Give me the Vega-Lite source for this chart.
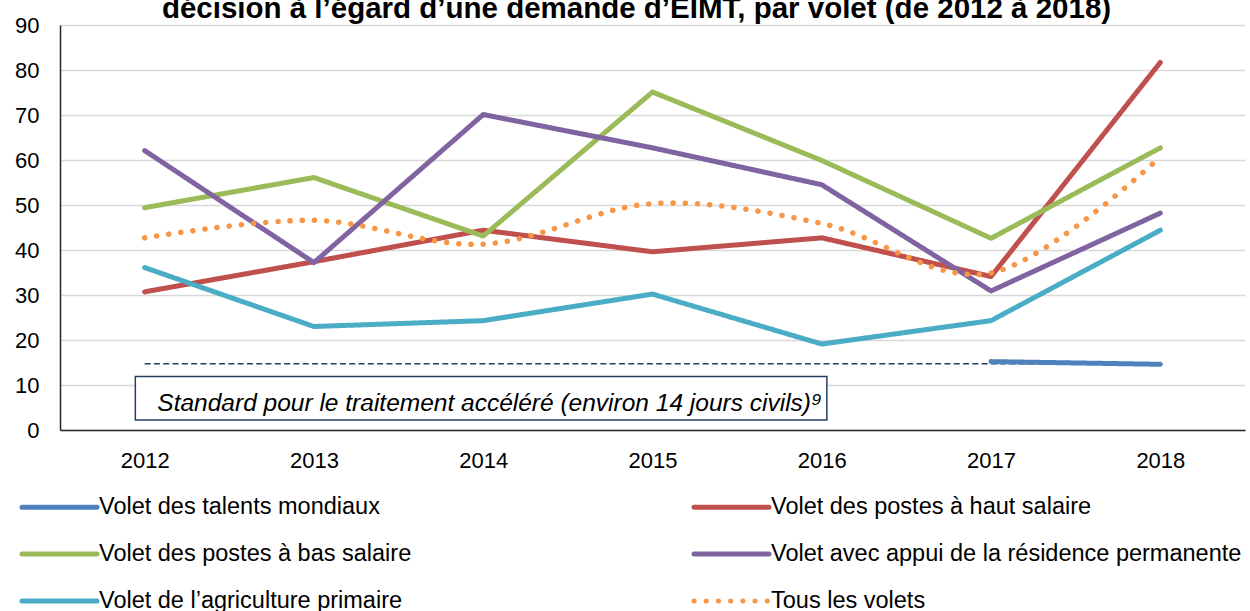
{
  "$schema": "https://vega.github.io/schema/vega-lite/v6.json",
  "width": 1185,
  "height": 405,
  "autosize": {"type": "none"},
  "padding": {"left": 60, "top": 25, "right": 5, "bottom": 181},
  "background": "white",
  "config": {
    "font": "Liberation Sans",
    "view": {"stroke": null},
    "axis": {"labelColor": "black", "labelFont": "Liberation Sans"}
  },
  "title": {
    "text": "décision à l’égard d’une demande d’EIMT, par volet (de 2012 à 2018)",
    "font": "Liberation Sans",
    "fontSize": 29.5,
    "fontWeight": "bold",
    "color": "black",
    "anchor": "middle",
    "frame": "group",
    "baseline": "alphabetic",
    "offset": 6,
    "dx": -16,
    "dy": 39
  },
  "datasets": {
    "series": [
      {"year": 2017, "series": "Volet des talents mondiaux", "value": 15.2},
      {"year": 2018, "series": "Volet des talents mondiaux", "value": 14.6},
      {"year": 2012, "series": "Volet des postes à haut salaire", "value": 30.7},
      {"year": 2013, "series": "Volet des postes à haut salaire", "value": 37.4},
      {"year": 2014, "series": "Volet des postes à haut salaire", "value": 44.4},
      {"year": 2015, "series": "Volet des postes à haut salaire", "value": 39.6},
      {"year": 2016, "series": "Volet des postes à haut salaire", "value": 42.7},
      {"year": 2017, "series": "Volet des postes à haut salaire", "value": 34.1},
      {"year": 2018, "series": "Volet des postes à haut salaire", "value": 81.7},
      {"year": 2012, "series": "Volet des postes à bas salaire", "value": 49.4},
      {"year": 2013, "series": "Volet des postes à bas salaire", "value": 56.1},
      {"year": 2014, "series": "Volet des postes à bas salaire", "value": 43.1},
      {"year": 2015, "series": "Volet des postes à bas salaire", "value": 75.1},
      {"year": 2016, "series": "Volet des postes à bas salaire", "value": 59.9},
      {"year": 2017, "series": "Volet des postes à bas salaire", "value": 42.6},
      {"year": 2018, "series": "Volet des postes à bas salaire", "value": 62.7},
      {"year": 2012, "series": "Volet avec appui de la résidence permanente", "value": 62.1},
      {"year": 2013, "series": "Volet avec appui de la résidence permanente", "value": 37.2},
      {"year": 2014, "series": "Volet avec appui de la résidence permanente", "value": 70.1},
      {"year": 2015, "series": "Volet avec appui de la résidence permanente", "value": 62.7},
      {"year": 2016, "series": "Volet avec appui de la résidence permanente", "value": 54.5},
      {"year": 2017, "series": "Volet avec appui de la résidence permanente", "value": 30.9},
      {"year": 2018, "series": "Volet avec appui de la résidence permanente", "value": 48.2},
      {"year": 2012, "series": "Volet de l’agriculture primaire", "value": 36.1},
      {"year": 2013, "series": "Volet de l’agriculture primaire", "value": 23.0},
      {"year": 2014, "series": "Volet de l’agriculture primaire", "value": 24.3},
      {"year": 2015, "series": "Volet de l’agriculture primaire", "value": 30.2},
      {"year": 2016, "series": "Volet de l’agriculture primaire", "value": 19.1},
      {"year": 2017, "series": "Volet de l’agriculture primaire", "value": 24.3},
      {"year": 2018, "series": "Volet de l’agriculture primaire", "value": 44.4},
      {"year": 2012, "series": "Tous les volets", "value": 42.7},
      {"year": 2013, "series": "Tous les volets", "value": 46.6},
      {"year": 2014, "series": "Tous les volets", "value": 41.3},
      {"year": 2015, "series": "Tous les volets", "value": 50.3},
      {"year": 2016, "series": "Tous les volets", "value": 45.9},
      {"year": 2017, "series": "Tous les volets", "value": 34.9},
      {"year": 2018, "series": "Tous les volets", "value": 60.7}
    ]
  },
  "encoding": {
    "x": {
      "field": "year",
      "type": "quantitative",
      "scale": {"domain": [2011.5, 2018.5], "nice": false, "zero": false},
      "axis": {
        "title": null,
        "values": [2012, 2013, 2014, 2015, 2016, 2017, 2018],
        "format": "d",
        "grid": false,
        "ticks": false,
        "tickSize": 0,
        "labelFontSize": 22,
        "labelPadding": 20,
        "labelFlush": false,
        "domainColor": "#262626",
        "domainWidth": 1.5
      }
    },
    "y": {
      "field": "value",
      "type": "quantitative",
      "scale": {"domain": [0, 90], "nice": false},
      "axis": {
        "title": null,
        "values": [0, 10, 20, 30, 40, 50, 60, 70, 80, 90],
        "grid": true,
        "gridColor": "#D9D9D9",
        "gridWidth": 1.5,
        "ticks": false,
        "tickSize": 0,
        "labelFontSize": 22,
        "labelPadding": 21,
        "domainColor": "#262626",
        "domainWidth": 1.5
      }
    }
  },
  "layer": [
    {
      "data": {"values": [{"year": 2012, "value": 14.7}, {"year": 2018, "value": 14.7}]},
      "mark": {"type": "line", "stroke": "#243F60", "strokeWidth": 1.5, "strokeDash": [6, 3.3]}
    },
    {
      "data": {"values": [{"year": 2011.945, "year_end": 2016.03, "value": 2.2, "value_end": 11.9}]},
      "mark": {"type": "rect", "fill": "white", "stroke": "#243F60", "strokeWidth": 1.5},
      "encoding": {
        "x2": {"field": "year_end"},
        "y2": {"field": "value_end"}
      }
    },
    {
      "data": {"values": [{"year": 2012.075, "value": 4.3, "label": "Standard pour le traitement accéléré (environ 14 jours civils)⁹"}]},
      "mark": {"type": "text", "align": "left", "baseline": "alphabetic", "fontSize": 24.5, "fontStyle": "italic", "font": "Liberation Sans", "color": "black"},
      "encoding": {"text": {"field": "label"}}
    },
    {
      "data": {"name": "series"},
      "transform": [{"filter": "datum.series !== 'Tous les volets'"}],
      "mark": {"type": "line", "strokeWidth": 5, "strokeCap": "round", "strokeJoin": "round"},
      "encoding": {
        "detail": {"field": "series"},
        "color": {
          "field": "series",
          "type": "nominal",
          "scale": {
            "domain": ["Volet des talents mondiaux", "Volet des postes à haut salaire", "Volet des postes à bas salaire", "Volet avec appui de la résidence permanente", "Volet de l’agriculture primaire", "Tous les volets"],
            "range": ["#4F81BD", "#C0504D", "#9BBB59", "#8064A2", "#4BACC6", "#F79646"]
          },
          "legend": {
            "title": null,
            "orient": "none",
            "direction": "horizontal",
            "legendX": -53,
            "legendY": 467,
            "columns": 2,
            "columnPadding": 267,
            "rowPadding": 20,
            "padding": 0,
            "symbolType": "M0,0H6",
            "symbolSize": 625,
            "symbolStrokeWidth": 5,
            "labelFontSize": 23.5,
            "labelFont": "Liberation Sans",
            "labelColor": "black",
            "labelOffset": 62,
            "labelLimit": 0,
            "encode": {"symbols": {"update": {"fill": {"value": "transparent"}, "strokeCap": {"value": "round"}}}}
          }
        },
        "strokeDash": {
          "field": "series",
          "type": "nominal",
          "scale": {
            "domain": ["Volet des talents mondiaux", "Volet des postes à haut salaire", "Volet des postes à bas salaire", "Volet avec appui de la résidence permanente", "Volet de l’agriculture primaire", "Tous les volets"],
            "range": [[1, 0], [1, 0], [1, 0], [1, 0], [1, 0], [0.1, 12.1]]
          },
          "legend": {
            "title": null,
            "orient": "none",
            "direction": "horizontal",
            "legendX": -53,
            "legendY": 467,
            "columns": 2,
            "columnPadding": 267,
            "rowPadding": 20,
            "padding": 0,
            "symbolType": "M0,0H6",
            "symbolSize": 625,
            "symbolStrokeWidth": 5,
            "labelFontSize": 23.5,
            "labelFont": "Liberation Sans",
            "labelColor": "black",
            "labelOffset": 62,
            "labelLimit": 0,
            "encode": {"symbols": {"update": {"fill": {"value": "transparent"}, "strokeCap": {"value": "round"}}}}
          }
        }
      }
    },
    {
      "data": {"name": "series"},
      "transform": [{"filter": "datum.series === 'Tous les volets'"}],
      "mark": {"type": "line", "strokeWidth": 5.5, "strokeCap": "round", "interpolate": "cardinal"},
      "encoding": {
        "color": {"field": "series", "type": "nominal"},
        "strokeDash": {"field": "series", "type": "nominal"}
      }
    }
  ]
}
